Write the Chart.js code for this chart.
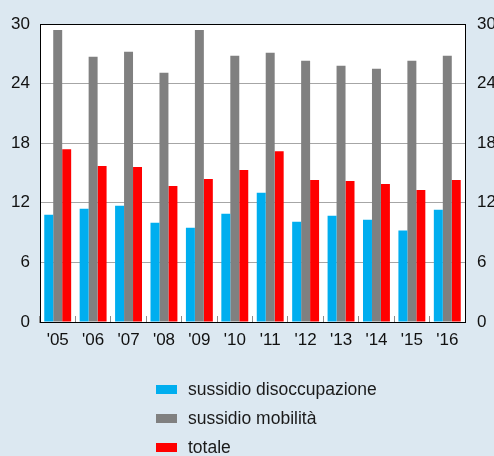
<!DOCTYPE html>
<html>
<head>
<meta charset="utf-8">
<script src="https://cdn.jsdelivr.net/npm/chart.js@4.4.1/dist/chart.umd.min.js"></script>
<style>
  html, body { margin: 0; padding: 0; background: #dce8f1; }
  #c { display: block; }
</style>
</head>
<body>
<canvas id="c" width="494" height="456"></canvas>
<script>
// dati
const anni = ["'05", "'06", "'07", "'08", "'09", "'10", "'11", "'12", "'13", "'14", "'15", "'16"];
const disoccupazione = [10.8, 11.4, 11.7, 10.0, 9.5, 10.9, 13.0, 10.1, 10.7, 10.3, 9.2, 11.3];
const mobilita = [29.4, 26.7, 27.2, 25.1, 29.4, 26.8, 27.1, 26.3, 25.8, 25.5, 26.3, 26.8];
const totale = [17.4, 15.7, 15.6, 13.7, 14.4, 15.3, 17.2, 14.3, 14.2, 13.9, 13.3, 14.3];
const yMax = 30;
const yStep = 6;

const FONT = '"Liberation Sans", Arial, Helvetica, sans-serif';
const BG = '#dce8f1';

// sfondo azzurro + area del grafico bianca
const bgPlugin = {
  id: 'bg',
  beforeDraw(chart) {
    const { ctx, chartArea: a } = chart;
    ctx.save();
    ctx.fillStyle = BG;
    ctx.fillRect(0, 0, chart.width, chart.height);
    ctx.fillStyle = '#ffffff';
    ctx.fillRect(a.left, a.top, a.right - a.left, a.bottom - a.top);
    ctx.restore();
  }
};

// legenda verticale sotto il grafico
const legendPlugin = {
  id: 'vertLegend',
  afterDraw(chart) {
    const ctx = chart.ctx;
    ctx.save();
    ctx.font = '17.5px ' + FONT;
    ctx.textBaseline = 'middle';
    chart.data.datasets.forEach((ds, i) => {
      const y = 389.5 + i * 29;
      ctx.fillStyle = ds.backgroundColor;
      ctx.fillRect(156, y - 4.5, 21, 9);
      ctx.fillStyle = '#1a1a1a';
      ctx.fillText(ds.label, 188, y + 1);
    });
    ctx.restore();
  }
};

const tickFont = { family: FONT, size: 17 };

new Chart(document.getElementById('c'), {
  type: 'bar',
  data: {
    labels: anni,
    datasets: [
      { label: 'sussidio disoccupazione', data: disoccupazione, backgroundColor: '#00aeef' },
      { label: 'sussidio mobilità', data: mobilita, backgroundColor: '#808080' },
      { label: 'totale', data: totale, backgroundColor: '#ff0000' },
    ],
  },
  options: {
    responsive: false,
    animation: false,
    layout: { padding: { top: 24, left: 0, right: 0, bottom: 0 } },
    datasets: {
      bar: { categoryPercentage: 0.76, barPercentage: 1.0 }
    },
    plugins: {
      legend: { display: false },
      tooltip: { enabled: false },
    },
    scales: {
      x: {
        grid: {
          offset: true,
          drawOnChartArea: false,
          drawTicks: true,
          tickLength: -6,
          color: '#8c8c8c',
        },
        border: { color: '#000000', width: 1 },
        ticks: { font: tickFont, color: '#111111', padding: 14, maxRotation: 0 },
        afterFit(scale) { scale.height = 134; },
      },
      y: {
        position: 'left',
        min: 0,
        max: yMax,
        ticks: { stepSize: yStep, font: tickFont, color: '#111111', padding: 10 },
        grid: {
          drawTicks: false,
          color: ctx => (ctx.tick && ctx.tick.value === yMax ? '#000000' : '#a6a6a6'),
        },
        border: { color: '#000000', width: 1 },
        afterFit(scale) { scale.width = 40; },
      },
      y2: {
        position: 'right',
        min: 0,
        max: yMax,
        ticks: { stepSize: yStep, font: tickFont, color: '#111111', padding: 12 },
        grid: { drawOnChartArea: false, drawTicks: false },
        border: { color: '#000000', width: 1 },
        afterFit(scale) { scale.width = 29; },
      },
    },
  },
  plugins: [bgPlugin, legendPlugin],
});
</script>
</body>
</html>
